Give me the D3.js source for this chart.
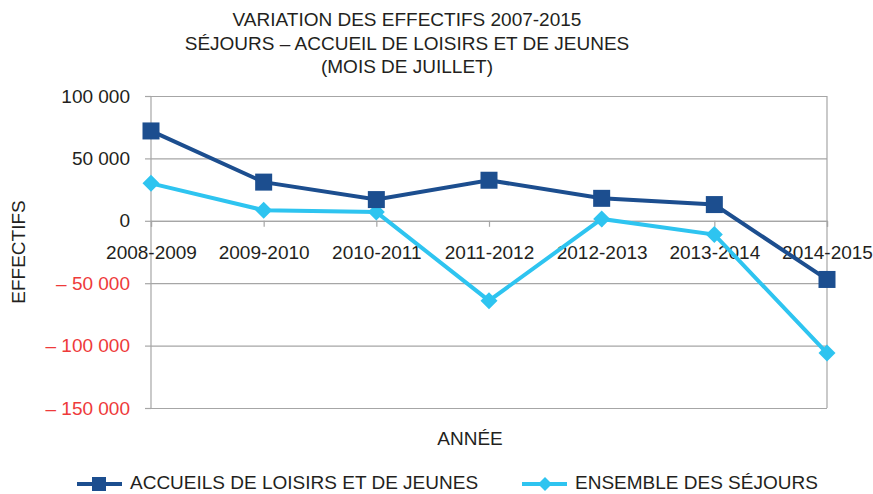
<!DOCTYPE html>
<html>
<head>
<meta charset="utf-8">
<script src="https://cdn.jsdelivr.net/npm/d3@7"></script>
<style>
  body { margin: 0; background: #fff; }
  #my_dataviz { width: 873px; height: 494px; }
  text { font-family: "Liberation Sans", Arial, sans-serif; fill: #231f20; }
</style>
</head>
<body>
<div id="my_dataviz"></div>
<script>
// Data
const categories = ["2008-2009", "2009-2010", "2010-2011", "2011-2012", "2012-2013", "2013-2014", "2014-2015"];
const accueils = [72000, 31000, 17000, 32500, 18000, 13000, -47000];
const ensemble = [30000, 8500, 7000, -64000, 1500, -11000, -106000];
const yTicks = [100000, 50000, 0, -50000, -100000, -150000];
const titleLines = ["VARIATION DES EFFECTIFS 2007-2015", "SÉJOURS – ACCUEIL DE LOISIRS ET DE JEUNES", "(MOIS DE JUILLET)"];
const seriesNames = ["ACCUEILS DE LOISIRS ET DE JEUNES", "ENSEMBLE DES SÉJOURS"];

const darkBlue = "#1c4e8f";
const lightBlue = "#2ec4f0";
const fontSize = "19px";

// Plot area
const margin = { top: 96, right: 46, bottom: 86, left: 151 };
const W = 873, H = 494;
const width = W - margin.left - margin.right;
const height = H - margin.top - margin.bottom;

const svg = d3.select("#my_dataviz")
  .append("svg")
    .attr("width", W)
    .attr("height", H);

const g = svg.append("g")
    .attr("transform", `translate(${margin.left},${margin.top})`);

// Scales
const x = d3.scalePoint()
    .domain(categories)
    .range([0, width]);

const y = d3.scaleLinear()
    .domain([-150000, 100000])
    .range([height, 0]);

const fmt = d => {
  const s = d3.format(",")(Math.abs(d)).replace(/,/g, " ");
  return d < 0 ? "– " + s : s;
};

// diamond drawn as a rotated square
const diamondPath = r => `M0,${-r}L${r},0L0,${r}L${-r},0Z`;

// Horizontal gridlines + y labels
const yAxis = g.append("g")
    .call(d3.axisLeft(y).tickValues(yTicks).tickSize(-width).tickFormat(fmt).tickPadding(21));
yAxis.select(".domain").remove();
yAxis.selectAll(".tick line").attr("stroke", "#a6a6a6").attr("stroke-width", 1.2);
yAxis.selectAll(".tick text")
    .style("font-size", fontSize)
    .style("fill", d => d < 0 ? "#ee3a3a" : "#231f20");
// small tick stubs on the left
yAxis.selectAll(".tick").append("line")
    .attr("x1", -6).attr("x2", 0)
    .attr("stroke", "#a6a6a6").attr("stroke-width", 1.2);

// Left axis line and right border
g.append("line").attr("x1", 0).attr("x2", 0).attr("y1", 0).attr("y2", height)
    .attr("stroke", "#a6a6a6").attr("stroke-width", 1.2);
g.append("line").attr("x1", width).attr("x2", width).attr("y1", 0).attr("y2", height)
    .attr("stroke", "#a6a6a6").attr("stroke-width", 1.2);

// Category axis on zero line
const xAxis = g.append("g")
    .attr("transform", `translate(0,${y(0)})`)
    .call(d3.axisBottom(x).tickSize(6).tickPadding(19));
xAxis.select(".domain").attr("stroke", "#a6a6a6").attr("stroke-width", 1.2);
xAxis.selectAll(".tick line").attr("stroke", "#a6a6a6").attr("stroke-width", 1.2);
xAxis.selectAll(".tick text").style("font-size", fontSize);

// Lines
const line = d3.line()
    .x((d, i) => x(categories[i]))
    .y(d => y(d));

g.append("path")
    .datum(ensemble)
    .attr("fill", "none")
    .attr("stroke", lightBlue)
    .attr("stroke-width", 4)
    .attr("d", line);

g.append("path")
    .datum(accueils)
    .attr("fill", "none")
    .attr("stroke", darkBlue)
    .attr("stroke-width", 4)
    .attr("d", line);

// Markers
g.selectAll(".diam")
  .data(ensemble)
  .join("path")
    .attr("class", "diam")
    .attr("transform", (d, i) => `translate(${x(categories[i])},${y(d)})`)
    .attr("d", diamondPath(8.5))
    .attr("fill", lightBlue);

g.selectAll(".sq")
  .data(accueils)
  .join("rect")
    .attr("class", "sq")
    .attr("x", (d, i) => x(categories[i]) - 8.5)
    .attr("y", d => y(d) - 8.5)
    .attr("width", 17)
    .attr("height", 17)
    .attr("fill", darkBlue);

// Title
svg.append("g")
  .selectAll("text")
  .data(titleLines)
  .join("text")
    .attr("x", 407)
    .attr("y", (d, i) => 26 + i * 23.5)
    .attr("text-anchor", "middle")
    .style("font-size", fontSize)
    .text(d => d);

// Axis titles
svg.append("text")
    .attr("transform", "translate(25,252) rotate(-90)")
    .attr("text-anchor", "middle")
    .style("font-size", fontSize)
    .text("EFFECTIFS");

svg.append("text")
    .attr("x", 470)
    .attr("y", 445)
    .attr("text-anchor", "middle")
    .style("font-size", fontSize)
    .text("ANNÉE");

// Legend
const legend = svg.append("g").attr("class", "legend");
const lx = [77, 522];
const ly = 484;
legend.selectAll("line")
  .data(seriesNames)
  .join("line")
    .attr("x1", (d, i) => lx[i])
    .attr("x2", (d, i) => lx[i] + 45)
    .attr("y1", ly).attr("y2", ly)
    .attr("stroke", (d, i) => i === 0 ? darkBlue : lightBlue)
    .attr("stroke-width", 4);
legend.append("rect")
    .attr("x", lx[0] + 22 - 7).attr("y", ly - 7)
    .attr("width", 14).attr("height", 14)
    .attr("fill", darkBlue);
legend.append("path")
    .attr("transform", `translate(${lx[1] + 23},${ly})`)
    .attr("d", diamondPath(7))
    .attr("fill", lightBlue);
legend.selectAll("text")
  .data(seriesNames)
  .join("text")
    .attr("x", (d, i) => lx[i] + 53)
    .attr("y", ly + 5)
    .style("font-size", fontSize)
    .text(d => d);
</script>
</body>
</html>
